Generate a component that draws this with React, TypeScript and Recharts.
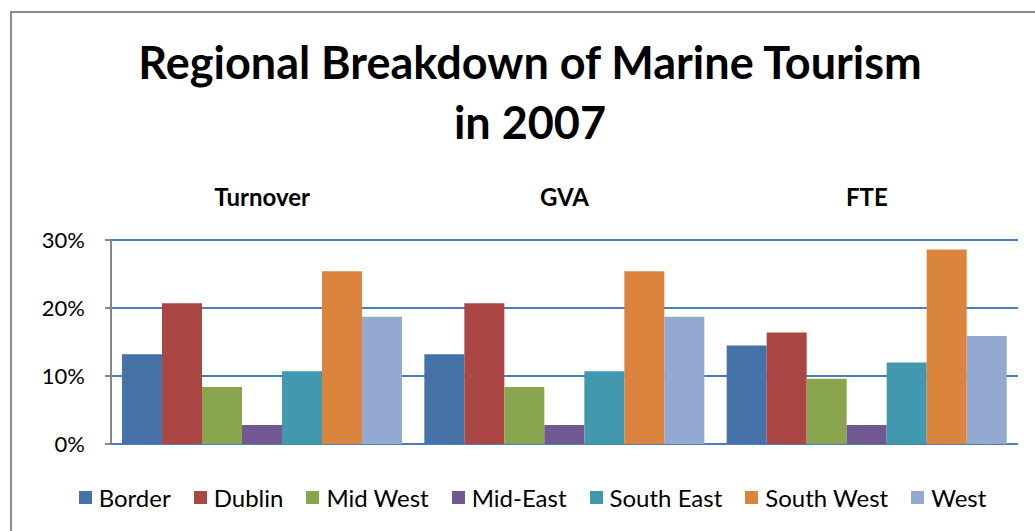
import { BarChart, Bar, XAxis, YAxis, CartesianGrid, Legend } from 'recharts'

const categories = ['Turnover', 'GVA', 'FTE']
const border = [13.2, 13.2, 14.5]
const dublin = [20.7, 20.7, 16.4]
const midWest = [8.4, 8.4, 9.6]
const midEast = [2.8, 2.8, 2.8]
const southEast = [10.7, 10.7, 12.0]
const southWest = [25.4, 25.4, 28.6]
const west = [18.7, 18.7, 15.9]
const yTicks = [0, 10, 20, 30]

const series = [
  { key: 'Border', values: border, color: '#4572a7' },
  { key: 'Dublin', values: dublin, color: '#aa4643' },
  { key: 'Mid West', values: midWest, color: '#89a54e' },
  { key: 'Mid-East', values: midEast, color: '#71588f' },
  { key: 'South East', values: southEast, color: '#4198af' },
  { key: 'South West', values: southWest, color: '#db843d' },
  { key: 'West', values: west, color: '#93a9cf' },
]

const data = categories.map((name, i) => {
  const row: Record<string, string | number> = { name }
  series.forEach((s) => {
    row[s.key] = s.values[i]
  })
  return row
})

const font = 'Lato, "Open Sans", sans-serif'

function LegendRow(props: any) {
  const items = props.payload || []
  return (
    <div
      style={{
        display: 'flex',
        justifyContent: 'center',
        alignItems: 'center',
        height: 30,
        fontSize: 24,
        fontFamily: font,
        color: '#000',
        paddingLeft: 20,
      }}
    >
      {items.map((it: any, i: number) => (
        <div key={it.value} style={{ display: 'flex', alignItems: 'center', marginLeft: i ? 23 : 0 }}>
          <span style={{ width: 13, height: 13, background: it.color, marginRight: 7, display: 'inline-block' }} />
          <span>{it.value}</span>
        </div>
      ))}
    </div>
  )
}

export default function App() {
  return (
    <div
      style={{
        position: 'absolute',
        left: 10,
        top: 11,
        width: 1025,
        height: 520,
        borderLeft: '2px solid #8c8c8c',
        borderTop: '2px solid #8c8c8c',
        boxSizing: 'border-box',
        fontFamily: font,
        background: '#fff',
      }}
    >
      <div
        style={{
          position: 'absolute',
          left: 0,
          top: 19,
          width: 1036,
          textAlign: 'center',
          fontSize: 45,
          fontWeight: 700,
          lineHeight: '60px',
          color: '#000',
        }}
      >
        Regional Breakdown of Marine Tourism
        <br />
        in 2007
      </div>
      <div style={{ position: 'absolute', left: -2, top: -2 }}>
        <BarChart
          width={1025}
          height={520}
          data={data}
          margin={{ top: 0, right: 17, left: 0, bottom: 57 }}
          barCategoryGap={11}
          barGap={0}
        >
          <CartesianGrid vertical={false} stroke="#4a7ebb" strokeWidth={2} />
          <XAxis
            dataKey="name"
            orientation="top"
            xAxisId={0}
            height={229}
            axisLine={false}
            tickLine={false}
            tickSize={0}
            tickMargin={34}
            tick={{ fill: '#000', fontSize: 24, fontWeight: 700, fontFamily: font }}
          />
          <XAxis
            dataKey="name"
            xAxisId="bottom"
            orientation="bottom"
            height={0}
            tick={false}
            tickLine={false}
            axisLine={{ stroke: '#868686', strokeWidth: 2 }}
          />
          <YAxis
            width={101}
            domain={[0, 30]}
            ticks={yTicks}
            tickFormatter={(v) => `${v}%`}
            axisLine={{ stroke: '#868686', strokeWidth: 2 }}
            tickLine={{ stroke: '#868686', strokeWidth: 2 }}
            tickSize={6}
            tickMargin={20}
            tick={{ fill: '#000', fontSize: 22, fontFamily: font }}
          />
          <Legend
            content={LegendRow}
            wrapperStyle={{ top: 471, bottom: 'auto', left: 0, width: 1025 }}
          />
          {series.map((s) => (
            <Bar key={s.key} dataKey={s.key} fill={s.color} isAnimationActive={false} />
          ))}
        </BarChart>
      </div>
    </div>
  )
}
